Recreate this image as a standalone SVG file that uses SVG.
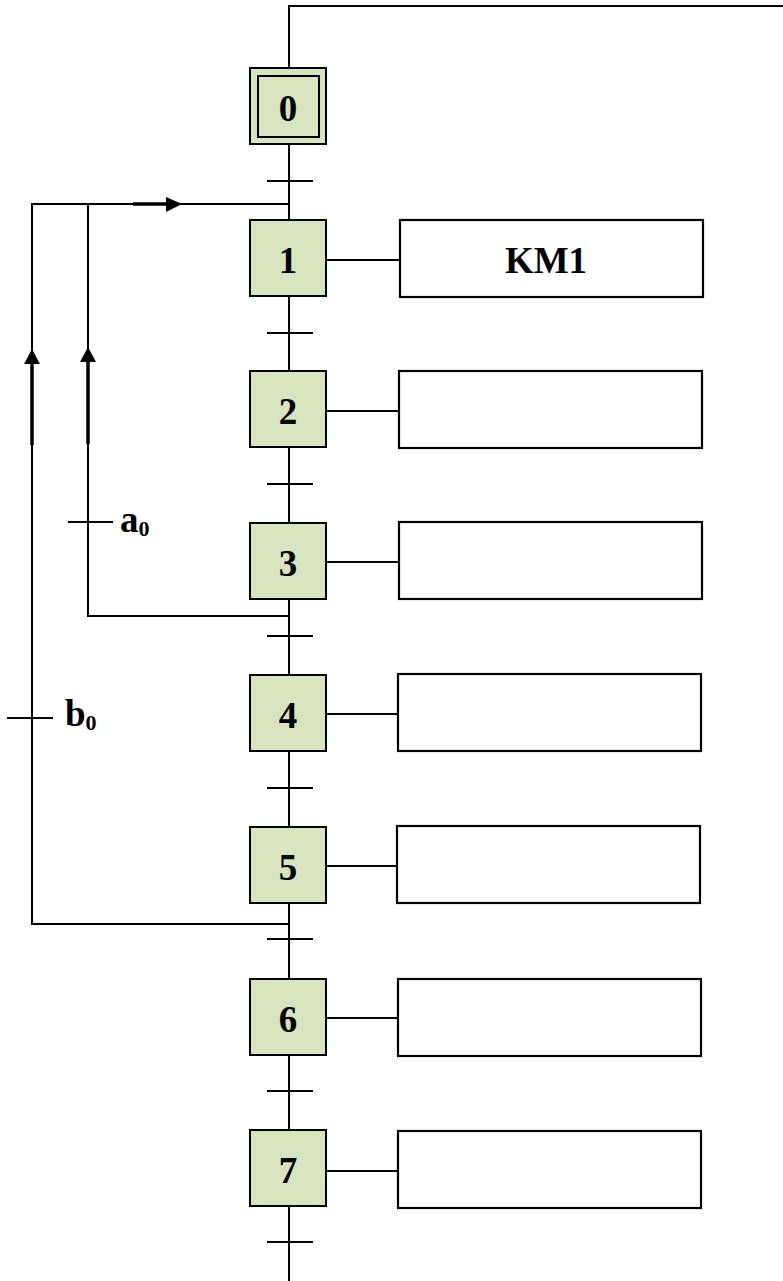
<svg xmlns="http://www.w3.org/2000/svg" width="783" height="1281" viewBox="0 0 783 1281">
  <style>
    .ln { fill: none; stroke: #000; stroke-width: 2; }
    .thk { fill: none; stroke: #000; stroke-width: 3.5; }
    .step { fill: #d7e4bd; stroke: #000; stroke-width: 2; }
    .act { fill: #fff; stroke: #000; stroke-width: 2.2; }
    .lbl { font-family: "Liberation Serif", "Times New Roman", serif; font-weight: bold; font-size: 37px; fill: #000; }
    .num { text-anchor: middle; }
    .sub { font-size: 22px; }
  </style>
  <rect width="783" height="1281" fill="#fff"/>

  <g id="connectors">
    <!-- main vertical line -->
    <path class="ln" d="M289,68 V6 H783"/>
    <line class="ln" x1="289" y1="144" x2="289" y2="1281"/>
    <!-- transitions -->
    <g class="ln">
      <line x1="267" y1="181" x2="313" y2="181"/>
      <line x1="267" y1="333" x2="313" y2="333"/>
      <line x1="267" y1="484" x2="313" y2="484"/>
      <line x1="267" y1="636" x2="313" y2="636"/>
      <line x1="267" y1="788" x2="313" y2="788"/>
      <line x1="267" y1="939" x2="313" y2="939"/>
      <line x1="267" y1="1091" x2="313" y2="1091"/>
      <line x1="267" y1="1242" x2="313" y2="1242"/>
    </g>
    <!-- loop a0 -->
    <path class="ln" d="M289,616 H88 V204 H289"/>
    <line class="ln" x1="68" y1="522" x2="113" y2="522"/>
    <!-- loop b0 -->
    <path class="ln" d="M289,924 H32 V204 H289"/>
    <line class="ln" x1="7" y1="718" x2="53" y2="718"/>
    <!-- thick arrow shafts -->
    <line class="thk" x1="32" y1="445" x2="32" y2="360"/>
    <line class="thk" x1="88" y1="444" x2="88" y2="358"/>
    <line class="thk" x1="133" y1="204" x2="170" y2="204"/>
    <!-- arrowheads -->
    <polygon points="32,349 24,364 40,364" fill="#000"/>
    <polygon points="88,347 80,362 96,362" fill="#000"/>
    <polygon points="182,204 166,197 166,212" fill="#000"/>
    <!-- action links -->
    <g class="ln">
      <line x1="326" y1="260" x2="400" y2="260"/>
      <line x1="326" y1="411" x2="399" y2="411"/>
      <line x1="326" y1="562" x2="399" y2="562"/>
      <line x1="326" y1="714" x2="398" y2="714"/>
      <line x1="326" y1="866" x2="398" y2="866"/>
      <line x1="326" y1="1018" x2="398" y2="1018"/>
      <line x1="326" y1="1171" x2="398" y2="1171"/>
    </g>
    <text class="lbl" x="120" y="532">a<tspan class="sub" dy="4">0</tspan></text>
    <text class="lbl" x="65" y="726">b<tspan class="sub" dy="4">0</tspan></text>
  </g>

  <g id="step0">
    <rect class="step" x="250" y="68" width="76" height="76"/>
    <rect class="step" x="258" y="76" width="61" height="61"/>
    <text class="lbl num" x="288" y="121">0</text>
  </g>
  <g id="step1">
    <rect class="step" x="250" y="220" width="76" height="76"/>
    <text class="lbl num" x="288" y="273">1</text>
  </g>
  <g id="action1">
    <rect class="act" x="400" y="220" width="303" height="77"/>
    <text class="lbl num" x="546" y="273">KM1</text>
  </g>
  <g id="step2">
    <rect class="step" x="250" y="371" width="76" height="76"/>
    <text class="lbl num" x="288" y="424">2</text>
  </g>
  <g id="action2"><rect class="act" x="399" y="371" width="303" height="77"/></g>
  <g id="step3">
    <rect class="step" x="250" y="523" width="76" height="76"/>
    <text class="lbl num" x="288" y="576">3</text>
  </g>
  <g id="action3"><rect class="act" x="399" y="522" width="303" height="77"/></g>
  <g id="step4">
    <rect class="step" x="250" y="675" width="76" height="76"/>
    <text class="lbl num" x="288" y="728">4</text>
  </g>
  <g id="action4"><rect class="act" x="398" y="674" width="303" height="77"/></g>
  <g id="step5">
    <rect class="step" x="250" y="827" width="76" height="76"/>
    <text class="lbl num" x="288" y="880">5</text>
  </g>
  <g id="action5"><rect class="act" x="397" y="826" width="303" height="77"/></g>
  <g id="step6">
    <rect class="step" x="250" y="979" width="76" height="76"/>
    <text class="lbl num" x="288" y="1032">6</text>
  </g>
  <g id="action6"><rect class="act" x="398" y="979" width="303" height="77"/></g>
  <g id="step7">
    <rect class="step" x="250" y="1130" width="76" height="76"/>
    <text class="lbl num" x="288" y="1183">7</text>
  </g>
  <g id="action7"><rect class="act" x="398" y="1131" width="303" height="77"/></g>
</svg>
